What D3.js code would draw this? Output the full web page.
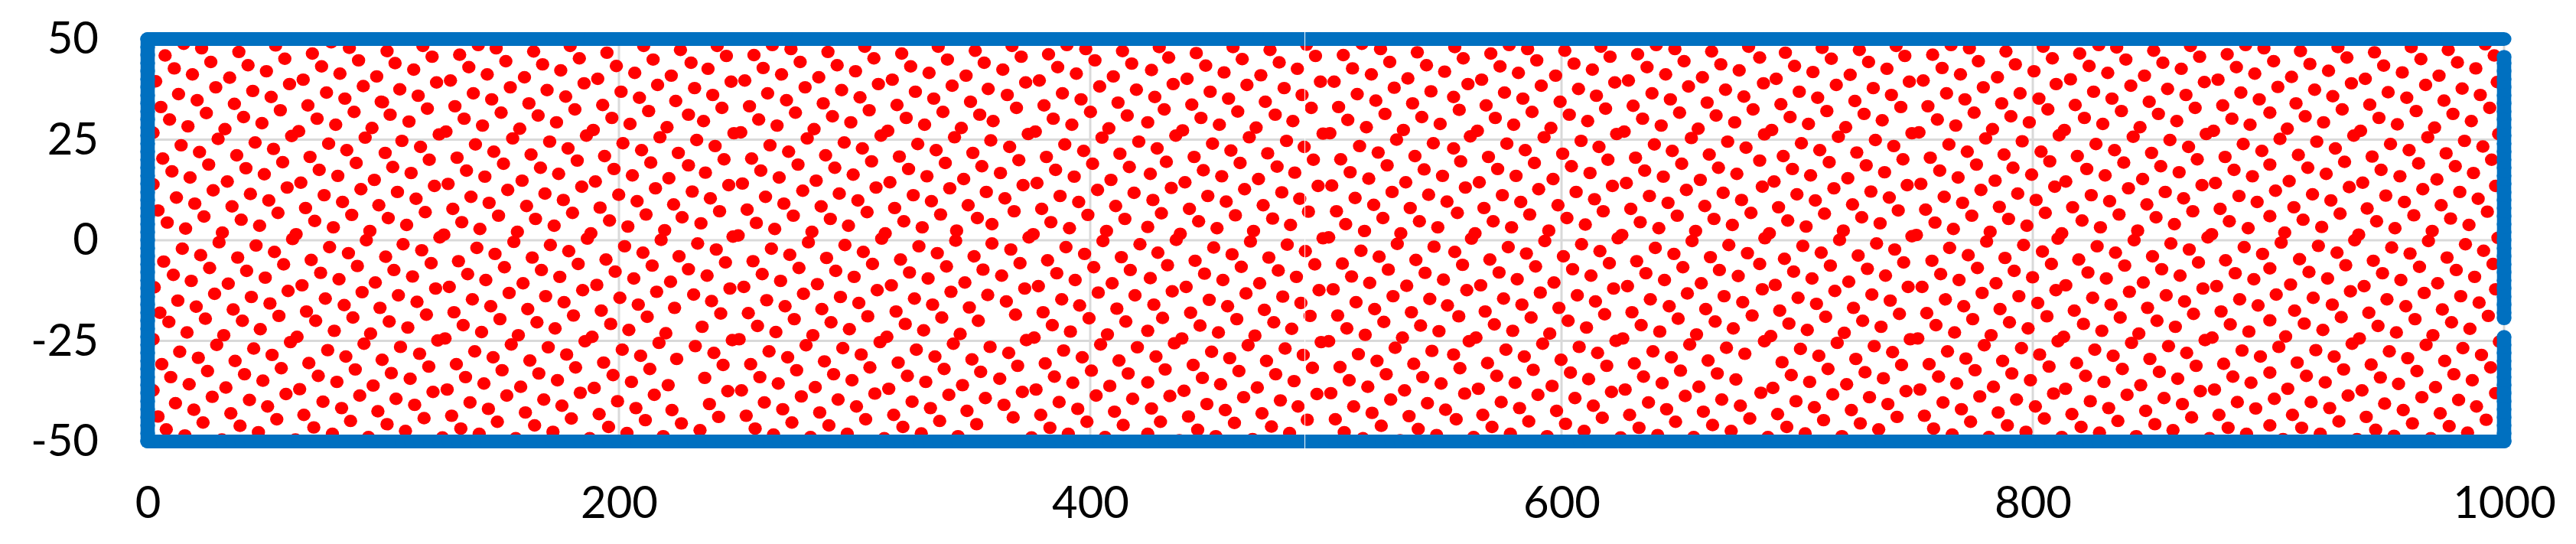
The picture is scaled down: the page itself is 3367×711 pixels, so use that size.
<!DOCTYPE html>
<html><head><meta charset="utf-8">
<script src="https://cdn.jsdelivr.net/npm/d3@7"></script>
<style>html,body{margin:0;padding:0;background:#fff}svg{display:block}</style>
</head><body><div id="c"></div>
<script>
const xTicks=[0,200,400,600,800,1000];
const yTicks=[-50,-25,0,25,50];
const edgeX=[0,4,8,12,16,20,24,28,32,36,40,44,48,52,56,60,64,68,72,76,80,84,88,92,96,100,104,108,112,116,120,124,128,132,136,140,144,148,152,156,160,164,168,172,176,180,184,188,192,196,200,204,208,212,216,220,224,228,232,236,240,244,248,252,256,260,264,268,272,276,280,284,288,292,296,300,304,308,312,316,320,324,328,332,336,340,344,348,352,356,360,364,368,372,376,380,384,388,392,396,400,404,408,412,416,420,424,428,432,436,440,444,448,452,456,460,464,468,472,476,480,484,488,492,496,500,504,508,512,516,520,524,528,532,536,540,544,548,552,556,560,564,568,572,576,580,584,588,592,596,600,604,608,612,616,620,624,628,632,636,640,644,648,652,656,660,664,668,672,676,680,684,688,692,696,700,704,708,712,716,720,724,728,732,736,740,744,748,752,756,760,764,768,772,776,780,784,788,792,796,800,804,808,812,816,820,824,828,832,836,840,844,848,852,856,860,864,868,872,876,880,884,888,892,896,900,904,908,912,916,920,924,928,932,936,940,944,948,952,956,960,964,968,972,976,980,984,988,992,996,1000];
const leftY=[50,48,46,44,42,40,38,36,34,32,30,28,26,24,22,20,18,16,14,12,10,8,6,4,2,0,-2,-4,-6,-8,-10,-12,-14,-16,-18,-20,-22,-24,-26,-28,-30,-32,-34,-36,-38,-40,-42,-44,-46,-48,-50];
const rightUpperY=[45.6,44,42,40,38,36,34,32,30,28,26,24,22,20,18,16,14,12,10,8,6,4,2,0,-2,-4,-6,-8,-10,-12,-14,-16,-18,-19.4];
const rightLowerY=[-24,-26,-28,-30,-32,-34,-36,-38,-40,-42,-44,-46,-48,-50];
const redA=[7.4,45.9,15.3,48.8,22.9,47.7,38.7,46.8,26.8,44.3,11.3,42.7,19.0,41.2,42.6,43.5,50.4,42.0,54.3,48.4,58.2,45.1,69.9,46.4,73.8,43.2,81.6,41.4,77.9,49.2,85.6,47.8,89.5,44.7,97.2,40.7,91.5,38.3,34.8,40.4,28.9,38.0,60.2,38.8,66.0,39.9,3.4,39.5,44.6,37.1,52.4,35.6,13.1,36.3,21.0,34.8,36.8,33.9,5.6,33.1,24.9,31.6,56.3,32.3,68.0,33.5,75.9,36.7,83.7,35.2,87.6,31.9,99.1,34.4,40.7,30.6,9.3,30.0,17.1,28.3,48.5,29.1,71.9,30.2,79.8,28.7,95.2,27.9,32.8,27.6,29.9,25.2,2.3,26.7,64.1,27.1,61.1,25.9,92.3,25.5,45.6,24.3,76.8,24.0,14.2,23.6,22.0,21.9,53.4,22.7,84.5,22.4,37.8,21.1,6.4,20.3,68.9,20.7,57.3,19.4,25.9,18.8,88.5,19.2,41.7,17.9,72.8,17.5,10.3,17.1,49.5,16.4,80.7,16.0,18.0,15.6,96.2,15.0,33.8,14.6,2.3,13.9,65.0,14.3,59.2,13.1,90.5,12.7,27.8,12.4,43.6,11.5,74.9,11.2,12.2,10.6,20.0,9.1,51.4,9.9,82.7,9.5,98.1,8.7,35.8,8.4,4.4,7.4,67.0,8.0,55.3,6.8,23.9,5.9,86.6,6.3,70.9,4.8,39.7,5.1,8.3,4.4,16.1,2.9,47.5,3.6,78.8,3.2,94.3,2.3,31.7,1.9,30.3,-0.5,63.0,1.5,61.5,0.3,92.8,0.0,14.7,-2.1,46.0,-1.3,77.2,-1.7,22.5,-3.7,53.8,-2.9,85.2,-3.2,6.8,-5.3,38.2,-4.3,69.4,-4.9,57.7,-6.0,26.3,-6.9,89.0,-6.4,10.9,-8.6,42.0,-7.6,73.4,-8.1,18.5,-10.1,49.9,-9.3,81.2,-9.7,34.2,-10.8,96.6,-10.5,28.4,-13.3,59.6,-12.6,65.5,-11.2,2.8,-11.7,91.0,-12.9,12.8,-15.0,44.0,-14.1,75.4,-14.5,20.6,-16.5,51.9,-15.7,83.4,-16.1,36.3,-17.2,98.6,-16.8,5.2,-18.0,67.4,-17.7,24.5,-19.5,55.7,-18.8,87.1,-19.2,9.0,-20.3,40.2,-20.0,71.3,-20.0,79.2,-22.5,47.8,-22.1,16.7,-22.9,32.3,-23.6,94.6,-23.2,63.4,-24.0,29.3,-26.0,60.6,-25.3,91.8,-25.7,2.3,-24.6,45.0,-26.9,76.4,-27.3,13.6,-27.7,52.8,-28.5,84.1,-28.9,21.5,-29.2,99.5,-29.7,37.1,-30.0,6.0,-30.8,68.4,-30.5,56.7,-31.8,25.4,-32.5,88.1,-32.1,41.1,-33.3,72.4,-33.7,9.8,-34.0,48.9,-34.9,80.3,-35.2,17.6,-35.8,95.7,-36.1,33.2,-36.6,2.3,-37.3,64.5,-37.0,58.7,-38.2,90.0,-38.6,27.4,-38.9,43.2,-39.7,74.4,-40.1,11.8,-40.5,50.9,-41.3,82.3,-41.7,19.6,-42.1,97.7,-42.5,35.3,-43.0,4.4,-43.8,66.3,-43.4,54.8,-44.5,23.5,-45.3,86.1,-44.9,70.5,-46.5,39.2,-46.1,7.9,-47.0,47.0,-47.7,15.8,-48.5,78.4,-48.1,31.5,-49.5,62.7,-49.5,93.7,-48.9];
const redB=[101.6,47.0,116.8,48.3,120.7,45.6,132.4,46.1,140.3,48.5,147.9,47.7,136.3,43.0,152.0,44.5,163.8,46.9,167.6,43.7,179.3,48.3,183.2,45.2,194.9,46.6,198.9,43.3,210.5,48.3,214.5,44.9,226.1,47.3,105.0,44.0,112.9,42.4,122.6,39.2,128.5,39.7,144.1,41.2,159.9,40.5,153.9,38.0,175.3,42.2,169.5,37.3,185.2,39.0,191.0,40.1,206.7,41.6,222.2,40.9,216.4,38.6,107.0,37.5,114.8,35.9,138.2,36.5,146.0,35.0,177.4,35.7,200.9,36.9,208.7,35.4,224.1,34.6,99.7,34.3,118.7,32.7,130.4,33.3,161.8,34.0,150.0,31.7,181.3,32.5,193.1,33.6,212.6,32.1,102.9,31.2,110.9,29.5,134.3,30.2,142.1,28.5,165.7,31.0,173.5,29.3,197.0,30.4,204.7,28.9,220.4,28.1,123.7,26.3,126.6,27.0,157.9,27.7,154.9,25.3,189.1,27.4,186.2,26.0,217.4,25.6,107.9,24.7,115.8,23.2,139.1,23.8,170.6,24.5,201.7,24.1,178.4,22.8,146.9,22.0,209.6,22.4,225.2,21.7,100.8,21.7,119.5,20.0,131.3,20.5,162.7,21.3,151.0,19.0,182.3,19.8,193.9,20.9,213.5,19.3,104.0,18.2,111.8,16.7,135.3,17.3,143.1,15.8,166.7,18.0,174.4,16.5,197.9,17.7,205.7,16.1,221.2,15.4,121.7,13.5,127.5,14.0,158.9,14.8,152.8,12.5,184.2,13.3,190.0,14.6,215.5,12.9,106.0,12.0,113.9,10.3,137.2,10.8,144.9,9.3,168.6,11.6,176.4,10.0,199.9,11.3,207.7,9.7,223.2,8.9,129.5,7.8,117.8,7.0,160.8,8.5,148.9,6.1,180.3,6.8,192.0,8.1,211.5,6.4,226.8,5.7,102.1,5.5,109.9,3.8,133.3,4.5,141.0,2.8,164.6,5.3,172.5,3.6,196.0,4.9,203.8,3.4,219.4,2.5,124.0,0.7,125.7,1.4,156.9,2.1,155.4,-0.4,186.6,0.4,188.1,1.7,217.9,0.1,108.4,-1.0,116.3,-2.5,139.7,-1.9,170.9,-1.2,202.4,-1.5,178.7,-2.7,147.4,-3.4,210.2,-3.1,225.5,-4.0,101.0,-4.1,120.3,-5.7,131.9,-5.2,163.2,-4.3,151.4,-6.7,182.7,-5.9,194.5,-4.8,214.1,-6.3,104.5,-7.4,112.4,-9.0,135.8,-8.4,143.5,-9.9,167.1,-7.4,174.9,-9.1,198.4,-7.8,206.3,-9.5,221.9,-10.3,122.2,-12.0,128.0,-11.6,159.3,-10.7,153.4,-13.1,184.6,-12.4,190.6,-11.1,216.0,-12.8,106.4,-13.7,114.3,-15.3,137.8,-14.7,145.6,-16.4,168.9,-13.9,176.7,-15.4,200.4,-14.3,208.2,-16.0,223.6,-16.8,130.0,-17.9,118.3,-18.5,161.3,-17.1,149.5,-19.6,180.7,-18.7,192.5,-17.5,212.0,-19.0,102.5,-20.2,110.4,-21.7,133.9,-21.1,141.7,-22.8,165.2,-20.4,172.9,-21.9,196.5,-20.8,204.2,-22.3,219.9,-23.1,123.1,-24.9,126.2,-24.4,157.3,-23.6,154.3,-25.9,185.6,-25.1,188.6,-24.0,217.0,-25.5,107.3,-26.5,115.4,-28.2,138.8,-27.6,170.0,-26.6,201.4,-27.2,177.8,-28.4,146.6,-29.1,209.2,-28.7,224.5,-29.5,119.3,-31.4,131.0,-30.8,162.2,-29.9,150.4,-32.3,181.6,-31.6,193.5,-30.4,213.1,-32.0,103.4,-33.0,111.4,-34.4,134.9,-34.0,142.7,-35.6,166.0,-33.1,173.9,-34.8,197.5,-33.5,205.3,-35.2,220.9,-36.0,121.1,-37.7,127.1,-37.1,158.3,-36.4,152.4,-38.6,183.6,-37.9,189.5,-36.7,215.0,-38.4,105.4,-39.4,113.3,-40.9,136.8,-40.3,144.6,-41.9,168.1,-39.6,175.8,-41.1,199.4,-40.0,207.2,-41.7,222.5,-42.2,129.0,-43.6,117.3,-44.2,160.3,-42.8,148.4,-45.1,179.8,-44.3,191.6,-43.2,211.2,-44.7,226.5,-45.5,101.6,-45.7,109.4,-47.4,132.9,-46.8,140.7,-48.1,164.2,-46.0,172.0,-47.6,195.6,-46.4,203.4,-47.9,218.8,-48.7,125.1,-49.0,156.2,-49.2,187.6,-49.2];
const redC=[241.7,48.3,245.6,45.8,257.3,46.0,265.1,48.5,273.0,47.5,230.6,44.1,237.8,42.6,261.2,42.8,276.9,44.3,288.7,46.8,292.6,43.5,304.3,48.1,308.2,45.2,320.0,46.4,323.8,43.2,335.5,48.1,339.4,44.9,351.2,47.1,355.0,44.1,247.6,39.4,253.4,39.7,269.0,41.2,284.8,40.5,279.0,38.0,300.4,42.0,310.1,38.8,316.0,39.9,331.6,41.6,347.3,40.9,341.4,38.4,232.1,37.8,239.8,36.1,263.1,36.5,271.1,34.8,294.5,37.3,302.3,35.5,325.8,36.9,333.6,35.2,349.2,34.4,356.7,37.6,229.5,31.2,243.7,32.9,255.4,33.3,286.7,34.0,274.9,31.7,306.2,32.3,318.0,33.6,337.5,31.9,353.1,31.2,235.9,29.6,259.3,30.0,267.1,28.5,290.6,30.8,298.4,29.3,321.9,30.4,329.7,28.7,358.8,29.6,248.8,26.6,251.7,26.8,282.8,27.6,279.9,25.3,314.1,27.2,311.2,26.0,345.3,27.9,342.4,25.6,233.0,24.9,240.8,23.4,264.1,23.6,295.6,24.3,326.8,23.9,303.3,22.8,272.0,22.0,334.6,22.4,357.8,24.8,350.2,21.7,244.6,20.1,256.3,20.3,287.7,21.1,276.0,18.8,307.2,19.6,319.0,20.8,338.5,19.2,354.0,18.4,229.5,18.6,236.7,16.8,260.2,17.3,268.0,15.6,291.6,18.0,299.4,16.3,322.9,17.7,330.7,15.9,346.3,15.2,246.6,13.7,252.4,14.1,283.7,14.8,278.0,12.3,309.1,13.1,315.0,14.4,340.4,12.9,231.1,12.1,238.8,10.4,262.2,10.8,270.0,9.1,293.5,11.6,301.4,9.9,324.9,11.2,332.6,9.7,355.9,12.0,348.2,8.7,242.7,7.2,254.4,7.6,285.8,8.4,274.0,6.1,305.3,7.0,317.0,8.0,336.5,6.4,352.1,5.5,234.8,4.2,258.3,4.3,266.1,2.8,289.7,5.3,297.4,3.6,320.9,4.7,328.7,3.2,358.3,4.0,343.3,2.4,248.4,0.9,250.6,1.2,281.9,2.1,280.4,-0.5,313.0,1.7,311.5,0.4,342.9,-0.1,233.4,-0.8,241.3,-2.3,264.7,-2.1,295.9,-1.2,327.3,-1.5,303.7,-2.9,272.5,-3.6,335.1,-3.2,358.3,-0.8,350.7,-4.0,245.2,-5.5,256.9,-5.2,288.1,-4.4,276.4,-6.9,307.6,-5.9,319.5,-4.8,339.0,-6.5,354.5,-7.3,229.5,-7.2,237.4,-8.8,260.8,-8.4,268.6,-10.1,292.0,-7.6,299.8,-9.1,323.3,-8.0,331.2,-9.5,346.8,-10.5,247.1,-12.0,253.0,-11.6,284.2,-10.9,278.3,-13.3,309.6,-12.4,315.6,-11.2,340.9,-12.8,231.7,-13.5,239.3,-15.1,262.7,-14.9,270.5,-16.4,294.0,-14.1,301.8,-15.6,325.4,-14.5,333.1,-16.0,356.5,-13.6,243.2,-18.2,254.9,-18.1,286.1,-17.1,274.4,-19.6,305.6,-18.9,317.6,-17.7,337.0,-19.2,348.7,-16.7,235.3,-21.5,258.8,-21.3,266.6,-22.8,290.0,-20.4,297.8,-22.1,321.5,-20.8,329.3,-22.4,352.5,-20.0,248.1,-24.8,251.0,-24.6,282.3,-23.6,279.4,-26.1,313.7,-24.0,310.8,-25.3,344.8,-23.3,341.9,-25.7,232.4,-26.3,240.3,-28.0,263.7,-27.6,295.0,-26.8,326.2,-27.2,302.8,-28.4,271.6,-29.1,334.1,-28.9,357.5,-26.5,349.8,-29.6,244.2,-31.0,255.9,-30.8,287.2,-30.1,275.4,-32.3,306.5,-31.6,318.5,-30.4,338.0,-32.0,353.5,-32.7,236.4,-34.2,259.8,-34.0,267.6,-35.6,291.1,-33.3,298.9,-34.8,322.4,-33.7,330.2,-35.2,345.8,-36.0,246.2,-37.5,252.0,-37.3,283.3,-36.5,277.4,-38.8,308.6,-38.1,314.5,-36.9,340.0,-38.4,238.4,-40.7,261.7,-40.3,269.5,-42.0,293.0,-39.6,300.8,-41.3,324.4,-40.1,332.2,-41.7,355.5,-39.2,347.7,-42.4,242.3,-43.9,254.0,-43.6,285.2,-42.8,273.4,-45.3,304.7,-44.5,316.6,-43.4,336.1,-44.9,351.8,-45.7,234.4,-47.2,257.8,-46.8,265.6,-48.3,289.1,-46.0,296.9,-48.1,320.5,-46.4,328.3,-48.0,343.9,-48.7,281.3,-48.9,312.6,-49.2];
const redD=[366.8,48.3,370.7,45.6,382.3,46.2,390.1,48.5,398.1,47.5,362.9,42.4,386.2,43.0,402.0,44.7,394.1,41.4,413.7,47.0,417.6,43.9,372.6,39.2,378.4,39.7,409.8,40.7,404.0,38.2,419.6,37.4,364.8,36.1,388.2,36.5,396.1,35.0,411.8,34.2,380.4,33.5,368.7,32.9,400.1,31.9,415.7,31.0,384.3,30.2,392.2,28.7,407.9,27.8,373.7,26.4,376.7,27.0,405.0,25.5,389.2,23.8,420.6,24.5,365.8,23.2,397.2,22.2,412.6,21.5,381.4,20.7,369.7,19.9,401.0,19.0,416.6,18.2,385.3,17.5,361.9,16.7,393.2,15.8,408.8,15.0,377.4,14.2,371.5,13.7,403.1,12.5,418.6,11.8,387.2,11.0,363.8,10.4,395.1,9.5,410.8,8.5,379.4,7.8,367.7,7.2,399.0,6.3,414.7,5.3,383.3,4.5,391.2,3.0,375.8,1.5,374.0,0.7,406.9,2.3,405.4,-0.2,421.1,-1.0,389.7,-1.7,366.3,-2.3,397.6,-3.4,413.2,-4.2,381.9,-5.0,370.2,-5.7,401.5,-6.7,417.0,-7.4,385.8,-8.2,362.4,-8.8,393.6,-9.9,409.3,-10.7,378.0,-11.4,372.2,-12.0,403.4,-13.0,419.0,-13.7,387.9,-14.7,364.4,-15.2,395.5,-16.2,411.3,-17.0,380.0,-17.9,368.3,-18.5,399.5,-19.4,415.1,-20.2,383.9,-21.1,391.6,-22.7,376.2,-24.2,372.9,-24.8,407.3,-23.4,404.4,-25.9,420.0,-26.6,388.7,-27.4,365.4,-28.0,396.6,-29.1,412.2,-29.9,380.9,-30.6,369.2,-31.2,400.5,-32.4,416.1,-33.1,384.8,-33.9,361.6,-34.4,392.6,-35.4,408.3,-36.2,377.0,-37.1,371.2,-37.7,402.5,-38.6,418.0,-39.4,386.8,-40.2,363.4,-40.9,394.7,-41.9,410.3,-42.6,379.0,-43.4,367.3,-44.0,398.6,-45.1,414.0,-45.9,382.9,-46.6,390.7,-48.1,406.3,-48.9,375.1,-49.0];
const redE=[429.3,48.0,433.3,45.4,426.0,42.3,445.0,46.5,449.0,43.4,460.6,48.0,464.5,45.0,456.8,41.7,476.3,47.3,480.2,44.2,487.9,42.6,491.8,48.6,495.6,45.8,507.4,46.0,511.3,42.7,515.3,48.8,523.2,47.5,527.1,44.3,519.3,41.2,538.8,46.7,542.7,43.5,534.8,40.2,550.4,41.9,435.2,38.8,441.1,40.1,450.9,36.9,466.5,38.6,472.4,41.0,482.3,37.8,497.7,39.4,503.5,39.4,529.0,37.9,544.6,37.0,427.4,35.6,431.4,32.5,443.1,33.7,458.7,35.2,474.3,34.4,489.9,36.1,493.8,32.9,505.4,33.1,513.3,36.3,521.2,34.7,536.8,34.0,540.7,30.6,447.0,30.4,454.8,28.7,462.6,32.0,424.4,29.3,478.5,31.2,486.0,29.6,509.3,29.9,525.1,31.4,517.2,28.1,548.5,28.9,439.2,27.3,436.3,26.0,470.4,28.0,467.5,25.6,498.8,26.5,501.7,26.6,532.9,27.4,530.0,25.0,451.9,24.0,483.3,24.7,545.6,24.1,428.4,22.8,459.7,22.3,475.3,21.6,490.8,23.2,514.3,23.4,522.2,21.8,444.1,20.7,432.3,19.5,463.6,19.2,494.7,20.0,506.3,20.1,537.8,20.9,526.0,18.6,479.3,18.3,448.0,17.4,425.5,16.5,455.8,15.9,486.8,16.8,510.3,16.9,541.7,17.6,518.2,15.3,549.5,16.0,440.2,14.4,434.4,13.0,471.4,15.2,465.5,12.7,496.7,13.5,502.5,13.6,533.9,14.4,528.1,12.0,481.3,11.9,449.9,11.0,426.6,10.0,488.9,10.3,512.4,10.5,543.6,11.3,457.7,9.6,473.4,8.7,442.1,7.8,430.2,6.7,492.6,7.1,504.5,7.2,520.3,8.8,535.8,8.0,551.4,9.6,461.6,6.2,477.4,5.4,446.0,4.7,524.2,5.5,539.7,4.7,485.0,3.8,453.8,3.0,424.4,3.3,508.4,4.0,547.5,3.2,469.3,2.3,438.2,1.6,436.5,0.1,516.4,2.3,531.8,1.7,530.3,-0.9,468.0,-0.3,498.8,0.5,501.2,0.7,452.4,-1.8,483.6,-1.1,545.9,-1.6,428.7,-3.1,460.2,-3.5,491.3,-2.7,514.9,-2.6,522.6,-4.1,475.8,-4.3,444.5,-5.1,432.8,-6.2,464.1,-6.6,495.3,-6.0,507.0,-5.8,538.2,-4.9,479.8,-7.5,526.5,-7.3,448.5,-8.3,487.5,-9.1,425.5,-9.4,456.3,-9.9,510.9,-9.0,542.1,-8.1,549.9,-9.8,518.6,-10.6,440.7,-11.6,434.8,-12.7,471.9,-10.7,466.1,-13.2,497.1,-12.4,503.1,-12.2,534.3,-11.3,528.5,-13.9,481.7,-14.0,450.5,-14.8,427.0,-16.0,489.4,-15.6,512.8,-15.4,544.1,-14.6,458.3,-16.4,473.9,-17.3,442.6,-18.0,430.7,-19.3,493.3,-18.8,505.0,-18.7,520.7,-17.1,536.3,-17.9,551.6,-16.2,462.2,-19.6,446.6,-21.2,477.9,-20.4,524.6,-20.3,540.2,-21.2,454.4,-22.9,424.4,-22.5,485.5,-22.0,508.9,-21.9,548.0,-22.6,469.9,-23.7,438.9,-24.4,435.7,-25.6,516.7,-23.5,532.5,-24.2,529.4,-26.7,467.0,-26.1,498.0,-25.3,501.2,-25.1,451.5,-27.7,482.7,-26.9,545.0,-27.5,427.9,-28.9,459.2,-29.3,490.4,-28.5,513.8,-28.3,521.7,-30.0,474.8,-30.0,443.7,-31.0,431.8,-32.1,463.1,-32.5,494.3,-31.7,506.0,-31.5,537.3,-30.7,478.7,-33.3,525.6,-33.3,447.6,-34.2,486.5,-35.0,424.4,-35.3,455.3,-35.8,509.9,-34.8,541.1,-34.0,548.9,-35.6,517.8,-36.4,439.8,-37.4,433.8,-38.7,470.9,-36.6,465.1,-39.0,496.2,-38.2,502.1,-38.0,533.4,-37.3,527.5,-39.6,480.7,-39.8,449.5,-40.7,426.0,-41.8,488.2,-41.3,511.8,-41.3,543.1,-40.5,457.3,-42.2,472.9,-43.0,441.7,-43.8,429.8,-45.1,492.1,-44.6,504.0,-44.5,519.6,-42.9,535.3,-43.7,550.8,-42.1,461.2,-45.4,445.6,-47.1,476.9,-46.3,523.5,-46.1,539.2,-46.9,453.3,-48.7,424.4,-48.1,484.6,-47.9,507.8,-47.7,547.0,-48.4,437.8,-49.7,468.9,-49.4,515.7,-49.2,531.5,-49.7];
const redF=[577.8,48.5,554.7,48.0,558.3,45.2,570.0,46.4,585.6,47.5,589.5,44.7,601.4,47.1,616.7,48.1,605.3,43.9,620.6,45.6,632.3,46.2,640.2,48.5,648.1,47.5,636.3,43.0,652.0,44.5,663.7,46.9,667.6,43.7,679.4,48.1,573.9,43.2,581.7,41.6,566.1,39.9,560.3,38.8,597.5,40.9,591.4,38.4,613.1,42.4,622.6,39.2,628.4,39.7,644.2,41.2,659.8,40.5,653.9,38.2,675.4,42.2,575.8,36.7,583.6,35.2,607.2,37.6,614.8,35.9,638.4,36.5,646.2,35.0,669.6,37.4,677.4,35.7,599.4,34.4,554.2,35.6,568.0,33.5,556.6,32.4,587.5,31.9,618.7,32.7,630.4,33.4,661.8,34.2,650.1,31.7,681.3,32.5,571.9,30.4,579.7,28.7,603.3,31.2,611.1,29.6,634.4,30.2,642.3,28.5,665.6,31.0,673.5,29.3,564.3,27.2,561.3,25.8,595.5,27.9,592.6,25.6,626.6,27.0,623.4,26.4,658.0,27.7,655.1,25.4,576.8,24.0,608.3,24.7,639.4,23.8,670.5,24.5,554.2,22.8,584.6,22.4,615.9,23.2,647.0,22.2,678.3,23.0,569.0,20.7,600.5,21.5,631.4,20.5,662.7,21.3,557.2,19.6,588.5,19.2,619.7,20.0,651.0,19.0,572.9,17.7,580.7,16.0,604.2,18.4,612.1,16.7,635.3,17.3,643.2,15.8,666.6,18.0,674.4,16.5,565.1,14.4,559.2,13.1,596.4,15.2,590.3,12.7,621.6,13.5,627.5,14.2,658.9,15.0,653.0,12.5,574.9,11.2,606.2,12.0,637.3,11.0,668.6,11.8,582.7,9.5,614.0,10.2,645.2,9.3,676.4,10.0,567.1,8.0,598.5,8.7,629.4,7.8,660.8,8.5,555.8,6.8,586.5,6.4,617.7,7.2,649.1,6.1,680.4,6.8,571.0,4.7,578.8,3.2,602.3,5.5,610.1,3.9,633.4,4.5,641.3,3.0,664.7,5.3,672.5,3.8,563.3,1.7,561.8,0.4,594.6,2.4,592.9,-0.2,625.6,1.3,624.0,0.5,656.9,2.3,655.4,-0.2,577.4,-1.7,608.5,-1.0,639.8,-1.9,671.0,-1.2,554.7,-2.9,585.1,-3.3,616.3,-2.7,647.7,-3.4,678.9,-3.2,569.6,-4.8,600.8,-4.0,631.9,-5.2,663.2,-4.2,558.0,-6.1,589.0,-6.5,620.3,-5.7,651.5,-6.7,573.5,-8.0,581.2,-9.7,604.7,-7.2,612.5,-8.8,635.8,-8.2,643.7,-9.9,667.0,-7.4,675.0,-8.9,565.7,-11.2,559.8,-12.4,596.8,-10.5,591.0,-13.0,622.1,-12.0,628.0,-11.4,659.3,-10.7,653.4,-13.2,575.4,-14.5,606.7,-13.7,637.7,-14.7,669.0,-13.9,583.2,-16.0,614.4,-15.2,645.7,-16.4,676.9,-15.4,567.6,-17.7,598.9,-16.8,629.9,-17.9,661.2,-17.1,556.4,-18.9,587.1,-19.2,618.3,-18.4,649.5,-19.5,680.9,-18.7,571.5,-20.9,579.3,-22.5,602.8,-20.0,610.6,-21.7,633.8,-21.1,641.7,-22.7,665.2,-20.2,672.9,-21.9,563.7,-24.2,560.8,-25.1,595.0,-23.2,592.0,-25.7,626.0,-24.4,623.1,-25.0,657.3,-23.4,654.4,-25.9,576.4,-27.2,607.5,-26.5,638.8,-27.6,670.0,-26.7,554.2,-28.4,584.2,-28.9,615.3,-28.0,646.6,-29.1,677.8,-28.2,568.6,-30.5,599.8,-29.7,630.9,-30.6,662.2,-29.9,556.9,-31.8,588.0,-32.2,619.2,-31.2,650.5,-32.4,572.5,-33.7,580.3,-35.4,603.8,-32.9,611.5,-34.5,634.8,-33.9,642.7,-35.5,666.1,-33.1,674.0,-34.6,564.7,-36.9,558.9,-38.1,596.0,-36.2,590.0,-38.4,621.2,-37.7,627.0,-37.1,658.3,-36.4,652.5,-38.7,574.4,-40.2,605.7,-39.2,636.9,-40.3,668.0,-39.6,582.2,-41.7,613.5,-41.1,644.6,-42.0,675.9,-41.1,566.6,-43.4,597.9,-42.4,628.9,-43.4,660.2,-42.6,555.3,-44.5,586.1,-45.0,617.3,-44.1,648.4,-45.1,679.9,-44.3,570.5,-46.4,578.3,-48.1,601.7,-45.6,609.6,-47.4,632.9,-46.6,640.8,-48.4,664.1,-45.9,672.0,-47.4,562.7,-48.9,593.9,-48.7,625.1,-49.0,656.1,-48.9];
const redG=[684.1,45.4,695.0,46.6,710.6,47.8,714.5,45.1,726.4,47.3,742.0,48.3,730.3,44.3,745.7,45.8,757.5,46.1,765.3,48.5,773.1,47.7,761.5,42.8,776.9,44.5,788.6,46.9,792.6,43.7,804.4,48.1,808.3,45.2,698.9,43.3,706.7,41.8,691.1,40.1,685.7,39.0,722.5,41.1,716.6,38.6,738.1,42.6,747.6,39.4,753.5,39.7,769.3,41.2,785.0,40.5,779.0,38.0,800.5,42.0,809.9,38.8,816.0,40.0,700.9,36.9,708.7,35.4,732.3,37.8,740.0,36.1,763.4,36.5,771.2,35.0,794.6,36.5,802.6,35.2,693.1,33.8,724.5,34.6,712.6,32.1,744.0,33.1,755.5,33.3,786.8,34.0,775.1,31.7,806.4,32.5,697.0,30.6,704.8,28.9,728.4,31.4,736.1,29.8,759.5,30.0,767.3,28.5,790.7,30.8,798.5,29.3,689.2,27.4,686.1,26.3,720.6,28.1,717.5,25.7,751.7,26.8,748.7,26.6,782.9,27.6,780.0,25.3,811.2,26.1,813.4,27.4,701.8,24.1,733.2,24.9,764.4,23.8,795.5,24.6,709.6,22.4,741.0,23.4,772.2,22.0,803.5,22.0,694.1,20.9,725.3,21.8,756.5,20.5,787.8,21.3,684.1,19.8,713.6,19.4,744.9,20.1,776.1,18.8,807.2,19.6,698.0,17.7,705.7,16.1,729.3,18.6,737.1,16.9,760.5,17.3,768.3,15.6,791.6,18.0,799.5,16.3,690.2,14.6,721.5,15.4,685.2,13.3,715.6,12.9,746.7,13.7,752.5,14.0,784.0,14.8,778.0,12.5,809.3,13.3,814.0,14.6,699.9,11.4,731.3,12.1,762.4,10.8,793.6,11.6,707.7,9.9,739.1,10.6,770.2,9.3,801.4,10.0,692.1,8.2,723.5,8.9,754.5,7.6,785.8,8.3,711.6,6.6,742.9,7.4,774.1,6.1,805.3,6.8,696.0,4.9,703.8,3.4,727.4,5.7,735.2,4.2,758.5,4.4,766.3,2.8,789.7,5.3,797.5,3.6,688.2,1.7,686.3,0.5,719.6,2.4,718.0,0.1,750.6,1.3,748.7,1.0,781.9,2.1,780.4,-0.3,812.3,1.7,810.7,0.4,702.4,-1.4,733.7,-0.8,764.7,-1.9,796.1,-1.2,710.2,-3.1,741.4,-2.3,772.6,-3.7,804.1,-2.8,694.6,-4.6,725.9,-3.8,757.2,-5.1,788.2,-4.4,684.1,-5.9,714.1,-6.3,745.2,-5.5,776.5,-6.9,807.9,-5.9,698.5,-7.8,706.3,-9.5,729.8,-7.1,737.5,-8.8,760.9,-8.4,768.7,-9.9,792.1,-7.6,799.9,-9.2,690.7,-11.1,721.9,-10.3,685.2,-12.2,716.0,-12.6,747.1,-11.6,753.0,-11.6,784.4,-10.7,778.5,-13.1,809.8,-12.4,814.0,-11.2,700.4,-14.3,731.7,-13.5,762.9,-14.7,794.1,-13.9,708.2,-15.8,739.5,-15.0,770.7,-16.4,802.1,-15.6,692.6,-17.5,723.9,-16.8,755.0,-18.1,786.1,-17.1,712.1,-19.0,743.4,-18.3,774.5,-19.6,806.0,-18.9,696.5,-20.7,704.3,-22.3,727.8,-20.0,735.6,-21.5,758.9,-21.1,766.8,-22.9,790.1,-20.4,798.0,-21.9,688.8,-23.8,686.1,-25.1,720.0,-23.0,717.0,-25.5,751.2,-24.4,748.0,-24.6,782.3,-23.6,779.4,-26.1,810.7,-25.1,813.1,-24.0,701.4,-27.0,732.7,-26.3,763.8,-27.6,795.2,-26.8,709.2,-28.7,740.5,-27.8,771.6,-29.4,802.9,-28.4,693.6,-30.3,724.9,-29.5,756.0,-30.8,787.2,-30.0,713.1,-32.0,744.3,-31.0,775.5,-32.3,806.9,-31.4,697.5,-33.5,705.3,-35.2,728.8,-32.8,736.6,-34.3,760.0,-33.9,767.7,-35.6,791.1,-33.1,799.0,-34.8,689.7,-36.7,721.0,-35.8,684.6,-37.9,715.1,-38.3,746.2,-37.5,752.1,-37.1,783.3,-36.4,777.5,-38.8,808.8,-38.1,813.9,-36.9,699.5,-40.0,730.7,-39.0,761.9,-40.3,793.1,-39.6,707.3,-41.5,738.5,-40.7,769.7,-42.0,801.1,-41.3,691.7,-43.2,723.0,-42.2,754.0,-43.6,785.3,-42.8,711.2,-44.7,742.4,-43.9,773.6,-45.1,804.9,-44.3,695.6,-46.4,703.4,-48.0,726.8,-45.5,734.6,-47.0,757.9,-46.8,765.8,-48.3,789.2,-46.0,797.1,-47.6,687.6,-48.9,719.0,-48.7,781.4,-48.9,812.3,-48.9];
const redH=[819.9,46.4,828.0,48.5,835.6,47.9,851.3,47.1,866.9,48.3,839.5,44.9,823.9,43.3,855.2,44.1,870.8,45.6,882.5,46.2,890.3,48.5,898.1,47.7,886.4,43.0,863.0,42.6,894.2,41.4,831.8,41.6,847.4,40.9,841.6,38.4,872.8,39.3,878.6,39.9,857.2,37.6,825.8,36.9,888.3,36.7,865.0,36.1,896.1,35.0,833.6,35.2,818.0,33.6,849.4,34.4,880.6,33.5,868.9,32.9,837.6,32.1,853.3,31.4,884.5,30.2,821.9,30.4,861.1,29.6,829.7,28.9,892.2,28.7,845.5,28.1,842.6,25.7,876.7,27.2,873.6,26.4,858.2,24.9,826.8,23.9,889.3,23.9,866.1,23.2,834.7,22.4,897.2,22.2,850.4,21.7,818.9,20.9,881.6,20.7,869.8,20.1,838.6,19.3,854.3,18.4,822.9,17.7,885.4,17.5,862.1,16.9,830.7,16.1,893.2,15.9,846.6,15.2,877.5,14.2,871.8,13.7,840.6,12.9,856.2,12.0,824.8,11.2,887.5,11.0,864.0,10.4,832.6,9.7,895.2,9.5,848.4,8.9,816.9,8.2,879.5,7.8,867.9,7.2,836.6,6.4,852.3,5.7,820.9,4.9,883.4,4.7,860.1,4.0,828.7,3.2,891.4,3.0,844.5,2.4,843.0,0.0,875.9,1.5,874.3,0.7,858.6,-0.8,827.3,-1.5,889.7,-1.7,866.4,-2.3,835.1,-3.1,897.5,-3.4,850.8,-4.0,819.5,-4.8,881.8,-5.0,870.3,-5.5,839.0,-6.3,854.7,-7.2,823.4,-8.0,885.9,-8.2,862.5,-8.8,831.2,-9.5,893.8,-9.7,846.9,-10.5,878.0,-11.4,872.2,-12.0,841.0,-12.8,856.6,-13.7,825.4,-14.3,887.8,-14.7,864.4,-15.2,833.2,-16.0,895.6,-16.2,848.7,-16.8,817.6,-17.5,879.9,-17.7,868.2,-18.3,837.1,-19.2,852.7,-20.0,821.5,-20.8,883.8,-20.9,860.5,-21.5,829.3,-22.5,891.7,-22.7,845.0,-23.2,841.9,-25.5,876.1,-24.2,873.1,-24.8,857.6,-26.3,826.3,-27.2,888.8,-27.4,865.3,-28.0,834.1,-28.7,896.6,-28.9,849.7,-29.5,818.6,-30.5,881.0,-30.7,869.3,-31.2,838.0,-32.0,853.7,-32.7,822.4,-33.7,884.9,-33.9,861.5,-34.4,830.2,-35.2,892.6,-35.4,845.8,-36.0,877.1,-37.1,871.1,-37.5,840.0,-38.4,855.7,-39.2,824.4,-40.0,886.8,-40.2,863.5,-40.7,832.2,-41.7,894.6,-41.8,847.9,-42.4,816.6,-43.2,879.0,-43.4,867.4,-44.0,836.1,-44.9,851.8,-45.7,820.5,-46.4,882.9,-46.6,859.5,-47.2,828.3,-47.8,890.7,-48.1,843.9,-48.7,875.0,-49.2];
const redI=[913.6,47.0,902.2,44.5,929.5,48.0,933.3,45.4,917.6,43.8,925.5,42.1,945.0,46.7,948.9,43.4,960.6,48.0,964.7,45.0,956.8,41.7,976.3,47.3,980.2,44.2,988.0,42.7,992.0,48.7,995.8,45.9,909.8,40.6,904.0,38.1,935.2,39.0,941.1,40.1,919.6,37.4,927.3,35.8,950.8,36.8,958.7,35.4,966.7,38.6,972.4,40.9,982.2,37.7,989.9,36.1,997.1,39.3,911.7,34.0,943.0,33.7,900.6,31.7,915.6,30.8,931.3,32.5,974.5,34.7,962.7,32.1,993.9,32.9,978.3,31.4,923.4,29.3,946.9,30.4,954.7,28.8,986.1,29.6,908.0,27.7,904.9,25.2,939.1,27.2,936.2,26.0,970.5,28.0,967.6,25.6,997.7,26.4,983.2,24.7,920.5,24.5,951.8,23.9,928.4,22.8,959.7,22.4,991.0,23.3,912.7,21.2,944.0,20.8,975.4,21.6,900.6,18.8,932.3,19.5,916.7,18.0,963.7,19.1,947.8,17.5,994.7,20.0,979.3,18.4,924.5,16.5,955.8,15.9,987.0,16.7,908.8,14.7,940.0,14.3,971.5,15.1,996.4,13.5,903.0,12.3,934.3,13.2,965.5,12.7,918.7,11.4,949.8,11.1,981.2,12.0,926.5,9.9,957.7,9.5,989.0,10.3,910.8,8.2,941.9,7.9,973.3,8.7,900.6,6.0,930.4,6.6,961.7,6.2,992.9,7.1,914.7,5.1,945.9,4.7,977.3,5.4,922.6,3.3,953.7,3.0,985.1,3.8,906.9,1.9,905.4,-0.6,938.3,1.4,936.6,0.0,969.5,2.3,967.9,-0.2,997.4,0.6,921.2,-1.4,952.3,-1.8,983.6,-1.0,929.1,-3.1,960.1,-3.3,991.3,-2.6,913.2,-4.7,944.5,-5.1,975.8,-4.3,900.6,-7.0,932.8,-6.2,964.1,-6.6,995.3,-5.9,917.2,-7.9,948.4,-8.2,979.7,-7.4,925.1,-9.5,956.2,-9.9,987.5,-9.1,909.4,-11.0,940.6,-11.4,971.8,-10.7,996.4,-12.2,903.3,-13.5,934.8,-12.7,966.1,-13.1,919.0,-14.3,950.3,-14.7,981.6,-13.9,927.1,-16.0,958.3,-16.4,989.4,-15.5,911.1,-17.5,942.6,-18.0,973.8,-17.2,900.6,-19.9,930.9,-19.1,962.2,-19.6,993.3,-18.8,915.2,-20.7,946.5,-21.3,977.7,-20.4,923.1,-22.3,954.3,-22.9,985.5,-22.0,907.3,-23.9,904.4,-26.5,938.6,-24.4,935.5,-25.7,969.8,-23.6,966.9,-26.0,998.0,-25.2,920.1,-27.3,951.3,-27.6,982.5,-26.8,927.9,-28.9,959.1,-29.3,990.4,-28.5,912.2,-30.4,943.6,-30.9,974.8,-30.0,900.6,-32.9,931.9,-32.1,963.0,-32.5,994.3,-31.6,916.1,-33.7,947.5,-34.1,978.7,-33.3,924.1,-35.3,955.2,-35.7,986.5,-34.8,908.2,-36.9,939.7,-37.3,970.9,-36.5,996.4,-38.0,902.5,-39.4,933.8,-38.6,965.1,-39.0,918.1,-40.2,949.3,-40.6,980.7,-39.7,926.0,-41.7,957.2,-42.2,988.3,-41.3,910.2,-43.4,941.5,-43.9,972.9,-43.0,900.6,-46.0,929.9,-45.0,961.1,-45.5,992.4,-44.6,914.1,-46.6,945.5,-47.1,976.7,-46.2,922.0,-48.1,953.3,-48.6,984.5,-47.8,906.2,-49.4,937.6,-49.4,968.9,-49.2];
const seam=[491.1];
const W=3367,H=711;
const x=d3.scaleLinear().domain([0,1000]).range([193,3273]);
const y=d3.scaleLinear().domain([-50,50]).range([577,51]);
const svg=d3.select("#c").append("svg").attr("width",W).attr("height",H).style("font-family","Lato");
svg.append("g").selectAll("line").data(yTicks).join("line").attr("x1",x(0)).attr("x2",x(1000)).attr("y1",d=>y(d)).attr("y2",d=>y(d)).attr("stroke","#d9d9d9").attr("stroke-width",3);
svg.append("g").selectAll("line").data(xTicks).join("line").attr("x1",d=>x(d)).attr("x2",d=>x(d)).attr("y1",y(50)).attr("y2",y(-50)).attr("stroke","#d9d9d9").attr("stroke-width",3);
const pairs=a=>d3.range(0,a.length,2).map(i=>[a[i],a[i+1]]);
const redPts=[redA,redB,redC,redD,redE,redF,redG,redH,redI].flatMap(pairs);
svg.append("g").selectAll("ellipse").data(redPts).join("ellipse").attr("cx",d=>x(d[0])).attr("cy",d=>y(d[1])).attr("rx",8.7).attr("ry",8.2).attr("fill","#ff0000");
const blueRuns=[edgeX.map(v=>[v,50]),edgeX.map(v=>[v,-50]),leftY.map(v=>[0,v]),rightUpperY.map(v=>[1000,v]),rightLowerY.map(v=>[1000,v])];
const link=d3.line().x(d=>x(d[0])).y(d=>y(d[1]));
svg.append("g").selectAll("path").data(blueRuns).join("path").attr("d",link).attr("fill","none").attr("stroke","#0070c0").attr("stroke-width",(d,i)=>i<2?17.8:18.6);
svg.append("g").selectAll("ellipse").data(blueRuns.flat()).join("ellipse").attr("cx",d=>x(d[0])).attr("cy",d=>y(d[1])).attr("rx",9.6).attr("ry",9).attr("fill","#0070c0");
svg.append("g").selectAll("line").data(seam).join("line").attr("x1",d=>x(d)).attr("x2",d=>x(d)).attr("y1",y(50)-10).attr("y2",y(-50)+10).attr("stroke","#fff").attr("stroke-width",1);
const ax=svg.append("g").attr("transform",`translate(0,${y(-50)+85})`).call(d3.axisBottom(x).tickValues(xTicks).tickSize(0).tickFormat(d=>String(d)));
ax.select(".domain").remove();
ax.selectAll("text").attr("dy",0).attr("y",0).attr("dominant-baseline","middle").attr("font-size",58).attr("fill","#000").attr("font-family","Lato");
const ay=svg.append("g").attr("transform","translate(129,4)").call(d3.axisLeft(y).tickValues(yTicks).tickSize(0).tickFormat(d=>String(d)));
ay.select(".domain").remove();
ay.selectAll("text").attr("x",0).attr("dy",0).attr("dominant-baseline","middle").attr("font-size",58).attr("fill","#000").attr("font-family","Lato");
</script></body></html>
